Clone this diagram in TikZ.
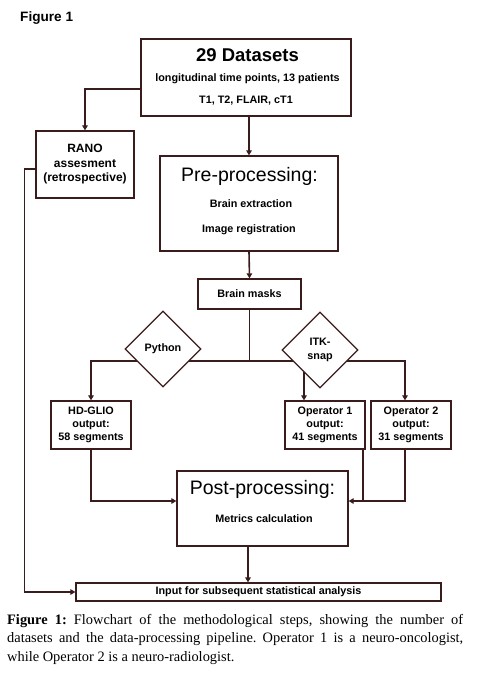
\documentclass[tikz,border=0pt]{standalone}
\usepackage{fontspec}
\setmainfont{Liberation Serif}
\setsansfont{Liberation Sans}
\usetikzlibrary{shapes.geometric,arrows.meta}

\definecolor{flowline}{RGB}{58,28,28}

\begin{document}
\begin{tikzpicture}[x=1pt,y=-1pt,
  box/.style={draw=flowline,line width=1.3pt,fill=white,inner sep=0pt,align=center,
    font=\sffamily\bfseries\fontsize{10.8}{13.3}\selectfont},
  choice/.style={diamond,aspect=1,draw=flowline,line width=1.3pt,fill=white,inner sep=0pt,
    minimum width=76pt,minimum height=76pt,align=center,
    font=\sffamily\bfseries\fontsize{10.8}{13.3}\selectfont},
  link/.style={draw=flowline,line width=1.6pt},
  arr/.style={link,-{Triangle[length=5pt,width=5.5pt]}},
  head/.style={font=\sffamily\fontsize{19.5}{22}\selectfont,inner sep=0pt,anchor=base},
  sub/.style={font=\sffamily\bfseries\fontsize{10.8}{13}\selectfont,inner sep=0pt,anchor=base}]
\useasboundingbox (0,0) rectangle (486,676);

\node[font=\sffamily\bfseries\fontsize{13.6}{16}\selectfont,inner sep=0pt,anchor=base west] (title) at (20,21.5) {Figure 1};

% datasets
\node[box,minimum width=210pt,minimum height=77pt] (data) at (246,77.5) {};
\node[font=\sffamily\bfseries\fontsize{18.5}{22}\selectfont,inner sep=0pt,anchor=base] (datatitle) at (247.5,62) {29 Datasets};
\node[sub] (datalong) at (247.5,81.5) {longitudinal time points, 13 patients};
\node[sub] (dataseq) at (246,104) {T1, T2, FLAIR, cT1};

\node[box,minimum width=98pt,minimum height=67pt,font=\sffamily\bfseries\fontsize{12}{14.5}\selectfont] (rano) at (85,164.5) {RANO\\assesment\\(retrospective)};

% pre-processing
\node[box,minimum width=178pt,minimum height=95pt] (pre) at (249,203.5) {};
\node[head] (pretitle) at (249.5,182) {Pre-processing:};
\node[sub] (brainext) at (251,207.5) {Brain extraction};
\node[sub] (imgreg) at (249,232.5) {Image registration};

\node[box,minimum width=103pt,minimum height=30pt] (masks) at (249.5,294) {Brain masks};

% segmentations
\node[box,minimum width=80pt,minimum height=48pt] (hdglio) at (91,425) {HD-GLIO\\output:\\58 segments};
\node[box,minimum width=80pt,minimum height=48pt] (op1) at (325,425) {Operator 1\\output:\\41 segments};
\node[box,minimum width=80pt,minimum height=48pt] (op2) at (411,425) {Operator 2\\output:\\31 segments};

% post-processing
\node[box,minimum width=171pt,minimum height=75pt] (post) at (262.5,508.5) {};
\node[head] (posttitle) at (262.5,494) {Post-processing:};
\node[sub] (metrics) at (264,522.7) {Metrics calculation};

\node[box,minimum width=365pt,minimum height=18pt] (input) at (258.5,592) {Input for subsequent statistical analysis};

% connectors
\coordinate (split) at (249.5,361);
\coordinate (op1in) at ([xshift=-21pt]op1.north);
\coordinate (op1out) at ([xshift=38pt]op1.south);
\coordinate (postleft) at ([yshift=7.5pt]post.west);
\coordinate (postright) at ([yshift=7.5pt]post.east);
\coordinate (postout) at ([xshift=-14.5pt]post.south);

\draw[arr] ([yshift=-11.5pt]data.west) -| (rano.north);
\draw[arr] (data.south -| pre.north) -- (pre.north);
\draw[arr] (pre.south) -- (masks.north);
\draw[link] (masks.south) -- (split);
\draw[arr] (split) -| (hdglio.north);
\draw[arr] (split) -| ([xshift=-6pt]op2.north);
\draw[arr] (split -| op1in) -- (op1in);

\draw[arr] (hdglio.south) |- (postleft);
\draw[arr] ([xshift=-6pt]op2.south) |- (postright);
\draw[link] (op1out) -- (op1out |- postright);
\draw[arr] (postout) -- (postout |- input.north);
\draw[arr] ([yshift=-4.5pt]rano.west) -- ++(-11,0) |- (input.west);

% tools
\node[choice] (python) at (163,349) {Python};
\node[choice] (itk) at (320,350) {ITK-\\snap};

% caption
\node[font=\rmfamily\fontsize{14.4}{18.5}\selectfont,text width=456pt,align=justify,inner sep=0pt,anchor=north west] (caption) at (7,614)
  {\frenchspacing\textbf{Figure 1:} Flowchart of the methodological steps, showing the number of\linebreak
   datasets and the data-processing pipeline. Operator 1 is a neuro-oncologist,\linebreak
   while Operator 2 is a neuro-radiologist.};
\end{tikzpicture}
\end{document}
